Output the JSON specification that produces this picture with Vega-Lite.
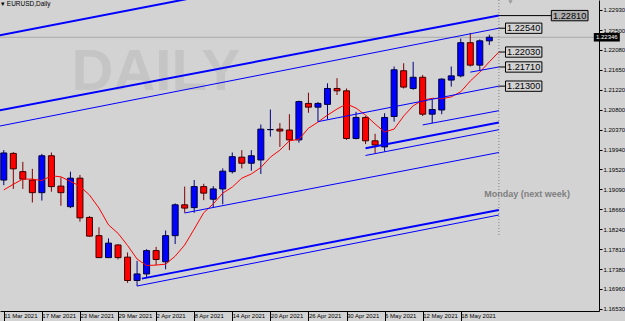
{
  "$schema": "https://vega.github.io/schema/vega-lite/v6.json",
  "width": 599,
  "height": 311,
  "autosize": {"type": "none"},
  "padding": {"left": 0, "top": 0, "right": 26, "bottom": 10},
  "background": "#d3d3d3",
  "config": {"view": {"stroke": null}, "font": "Liberation Sans"},
  "title": {"text": "▾ EURUSD,Daily", "anchor": "start", "frame": "group", "offset": -14, "fontSize": 6.5, "fontWeight": "normal", "color": "#000000", "font": "Liberation Sans", "baseline": "bottom", "dx": 1},
  "resolve": {"axis": {"x": "independent", "y": "independent"}},
  "datasets": {
    "candles": [
      {"i":0,"date":"2021-03-11","open":1.1929,"high":1.1993,"low":1.1918,"close":1.1987},
      {"i":1,"date":"2021-03-12","open":1.1986,"high":1.1989,"low":1.1910,"close":1.1953},
      {"i":2,"date":"2021-03-15","open":1.1947,"high":1.1968,"low":1.1910,"close":1.1931},
      {"i":3,"date":"2021-03-16","open":1.1929,"high":1.1953,"low":1.1881,"close":1.1902},
      {"i":4,"date":"2021-03-17","open":1.1902,"high":1.1985,"low":1.1885,"close":1.1981},
      {"i":5,"date":"2021-03-18","open":1.1981,"high":1.1988,"low":1.1904,"close":1.1915},
      {"i":6,"date":"2021-03-19","open":1.1916,"high":1.1935,"low":1.1874,"close":1.1902},
      {"i":7,"date":"2021-03-22","open":1.1872,"high":1.1947,"low":1.1869,"close":1.1933},
      {"i":8,"date":"2021-03-23","open":1.1933,"high":1.1940,"low":1.1840,"close":1.1848},
      {"i":9,"date":"2021-03-24","open":1.1849,"high":1.1852,"low":1.1808,"close":1.1809},
      {"i":10,"date":"2021-03-25","open":1.1810,"high":1.1828,"low":1.1762,"close":1.1763},
      {"i":11,"date":"2021-03-26","open":1.1763,"high":1.1804,"low":1.1762,"close":1.1794},
      {"i":12,"date":"2021-03-29","open":1.1790,"high":1.1792,"low":1.1759,"close":1.1763},
      {"i":13,"date":"2021-03-30","open":1.1764,"high":1.1774,"low":1.1709,"close":1.1714},
      {"i":14,"date":"2021-03-31","open":1.1714,"high":1.1756,"low":1.1702,"close":1.1728},
      {"i":15,"date":"2021-04-01","open":1.1728,"high":1.1781,"low":1.1721,"close":1.1778},
      {"i":16,"date":"2021-04-02","open":1.1778,"high":1.1786,"low":1.1747,"close":1.1759},
      {"i":17,"date":"2021-04-05","open":1.1754,"high":1.1821,"low":1.1738,"close":1.1810},
      {"i":18,"date":"2021-04-06","open":1.1810,"high":1.1879,"low":1.1792,"close":1.1876},
      {"i":19,"date":"2021-04-07","open":1.1876,"high":1.1915,"low":1.1859,"close":1.1869},
      {"i":20,"date":"2021-04-08","open":1.1870,"high":1.1929,"low":1.1859,"close":1.1915},
      {"i":21,"date":"2021-04-09","open":1.1915,"high":1.1921,"low":1.1886,"close":1.1901},
      {"i":22,"date":"2021-04-12","open":1.1888,"high":1.1916,"low":1.1870,"close":1.1910},
      {"i":23,"date":"2021-04-13","open":1.1910,"high":1.1954,"low":1.1877,"close":1.1948},
      {"i":24,"date":"2021-04-14","open":1.1947,"high":1.1988,"low":1.1943,"close":1.1979},
      {"i":25,"date":"2021-04-15","open":1.1978,"high":1.1993,"low":1.1954,"close":1.1965},
      {"i":26,"date":"2021-04-16","open":1.1965,"high":1.1993,"low":1.1949,"close":1.1981},
      {"i":27,"date":"2021-04-19","open":1.1972,"high":1.2048,"low":1.1942,"close":1.2038},
      {"i":28,"date":"2021-04-20","open":1.2037,"high":1.2080,"low":1.2022,"close":1.2037},
      {"i":29,"date":"2021-04-21","open":1.2038,"high":1.2051,"low":1.2000,"close":1.2034},
      {"i":30,"date":"2021-04-22","open":1.2036,"high":1.2070,"low":1.1993,"close":1.2015},
      {"i":31,"date":"2021-04-23","open":1.2015,"high":1.2099,"low":1.2009,"close":1.2097},
      {"i":32,"date":"2021-04-26","open":1.2093,"high":1.2116,"low":1.2073,"close":1.2085},
      {"i":33,"date":"2021-04-27","open":1.2085,"high":1.2096,"low":1.2054,"close":1.2093},
      {"i":34,"date":"2021-04-28","open":1.2091,"high":1.2136,"low":1.2059,"close":1.2125},
      {"i":35,"date":"2021-04-29","open":1.2125,"high":1.2147,"low":1.2111,"close":1.2120},
      {"i":36,"date":"2021-04-30","open":1.2120,"high":1.2125,"low":1.2015,"close":1.2018},
      {"i":37,"date":"2021-05-03","open":1.2018,"high":1.2075,"low":1.2016,"close":1.2063},
      {"i":38,"date":"2021-05-04","open":1.2063,"high":1.2066,"low":1.2006,"close":1.2013},
      {"i":39,"date":"2021-05-05","open":1.2013,"high":1.2028,"low":1.1986,"close":1.2004},
      {"i":40,"date":"2021-05-06","open":1.2000,"high":1.2072,"low":1.1990,"close":1.2063},
      {"i":41,"date":"2021-05-07","open":1.2065,"high":1.2172,"low":1.2054,"close":1.2165},
      {"i":42,"date":"2021-05-10","open":1.2163,"high":1.2179,"low":1.2125,"close":1.2128},
      {"i":43,"date":"2021-05-11","open":1.2125,"high":1.2182,"low":1.2122,"close":1.2149},
      {"i":44,"date":"2021-05-12","open":1.2149,"high":1.2154,"low":1.2066,"close":1.2070},
      {"i":45,"date":"2021-05-13","open":1.2070,"high":1.2102,"low":1.2051,"close":1.2080},
      {"i":46,"date":"2021-05-14","open":1.2079,"high":1.2147,"low":1.2070,"close":1.2145},
      {"i":47,"date":"2021-05-17","open":1.2143,"high":1.2172,"low":1.2129,"close":1.2152},
      {"i":48,"date":"2021-05-18","open":1.2152,"high":1.2232,"low":1.2149,"close":1.2223},
      {"i":49,"date":"2021-05-19","open":1.2223,"high":1.2244,"low":1.2172,"close":1.2175},
      {"i":50,"date":"2021-05-20","open":1.2175,"high":1.2230,"low":1.2163,"close":1.2227},
      {"i":51,"date":"2021-05-21","open":1.2227,"high":1.2240,"low":1.2218,"close":1.22346}
    ],
    "ma": [
      {"i":0,"ma":1.1908},{"i":1,"ma":1.1920},{"i":2,"ma":1.1931},{"i":3,"ma":1.1931},{"i":4,"ma":1.1928},
      {"i":5,"ma":1.1938},{"i":6,"ma":1.1936},{"i":7,"ma":1.1926},{"i":8,"ma":1.1916},{"i":9,"ma":1.1897},
      {"i":10,"ma":1.1869},{"i":11,"ma":1.1833},{"i":12,"ma":1.1815},{"i":13,"ma":1.1789},{"i":14,"ma":1.1760},
      {"i":15,"ma":1.1746},{"i":16,"ma":1.1747},{"i":17,"ma":1.1749},{"i":18,"ma":1.1766},{"i":19,"ma":1.1790},
      {"i":20,"ma":1.1824},{"i":21,"ma":1.1859},{"i":22,"ma":1.1878},{"i":23,"ma":1.1901},{"i":24,"ma":1.1914},
      {"i":25,"ma":1.1933},{"i":26,"ma":1.1942},{"i":27,"ma":1.1956},{"i":28,"ma":1.1978},{"i":29,"ma":1.1993},
      {"i":30,"ma":1.2013},{"i":31,"ma":1.2016},{"i":32,"ma":1.2040},{"i":33,"ma":1.2053},{"i":34,"ma":1.2068},
      {"i":35,"ma":1.2081},{"i":36,"ma":1.2092},{"i":37,"ma":1.2083},{"i":38,"ma":1.2068},{"i":39,"ma":1.2049},
      {"i":40,"ma":1.2032},{"i":41,"ma":1.2038},{"i":42,"ma":1.2066},{"i":43,"ma":1.2088},{"i":44,"ma":1.2100},
      {"i":45,"ma":1.2104},{"i":46,"ma":1.2103},{"i":47,"ma":1.2107},{"i":48,"ma":1.2118},{"i":49,"ma":1.2141},
      {"i":50,"ma":1.2160},{"i":51,"ma":1.2182},{"i":52,"ma":1.2203}
    ],
    "thickLines": [
      {"line":"t1","i":-1,"price":1.22365},{"line":"t1","i":52,"price":1.24459},
      {"line":"t2","i":-1,"price":1.20760},{"line":"t2","i":52,"price":1.2281},
      {"line":"t3","i":38,"price":1.1997},{"line":"t3","i":52,"price":1.20522},
      {"line":"t4","i":14.5,"price":1.1718},{"line":"t4","i":52,"price":1.18649}
    ],
    "thinLines": [
      {"line":"s1","i":-1,"price":1.20423},{"line":"s1","i":52,"price":1.2254},
      {"line":"s2","i":49,"price":1.2160},{"line":"s2","i":52,"price":1.2171},
      {"line":"s3","i":33,"price":1.2054},{"line":"s3","i":52,"price":1.2130},
      {"line":"s4","i":44,"price":1.2047},{"line":"s4","i":52,"price":1.20775},
      {"line":"s5","i":19,"price":1.18585},{"line":"s5","i":52,"price":1.1988},
      {"line":"s6","i":38,"price":1.19816},{"line":"s6","i":52,"price":1.20368},
      {"line":"s7","i":14,"price":1.17022},{"line":"s7","i":52,"price":1.18542}
    ],
    "tags": [
      {"price":1.2254,"label":"1.22540"},
      {"price":1.2203,"label":"1.22030"},
      {"price":1.2171,"label":"1.21710"},
      {"price":1.2130,"label":"1.21300"}
    ],
    "farTag": [{"price":1.2281,"label":"1.22810"}],
    "bid": [{"price":1.22346,"label":"1.22346"}],
    "nextWeek": [{"i":52,"date":"2021-05-24","label":"Monday (next week)"}]
  },
  "layer": [
    {
      "data": {"values": [{"text": "DAILY"}]},
      "mark": {"type": "text", "fontSize": 58, "fontWeight": "bold", "color": "#c5c5c5", "align": "center", "baseline": "alphabetic"},
      "encoding": {
        "x": {"datum": 15.98, "type": "quantitative", "scale": {"domain": [0.1268, 61.995], "nice": false, "zero": false}, "axis": null},
        "y": {"datum": 1.21218, "type": "quantitative", "scale": {"domain": [1.16487, 1.23144], "nice": false, "zero": false}, "axis": null},
        "text": {"field": "text"}
      }
    },
    {
      "data": {"name": "bid"},
      "mark": {"type": "rule", "color": "#a9a9a9", "strokeWidth": 1},
      "encoding": {
        "y": {"field": "price", "type": "quantitative", "scale": {"domain": [1.16487, 1.23144], "nice": false, "zero": false}, "axis": null}
      }
    },
    {
      "data": {"name": "nextWeek"},
      "mark": {"type": "rule", "color": "#808080", "strokeWidth": 1, "strokeDash": [1, 2]},
      "encoding": {
        "x": {"field": "i", "type": "quantitative", "scale": {"domain": [0.1268, 61.995], "nice": false, "zero": false}, "axis": null},
        "y": {"datum": 1.23144, "type": "quantitative", "scale": {"domain": [1.16487, 1.23144], "nice": false, "zero": false}, "axis": null},
        "y2": {"datum": 1.1810}
      }
    },
    {
      "data": {"name": "nextWeek"},
      "mark": {"type": "text", "fontSize": 9, "fontWeight": "bold", "color": "#7f7f7f", "align": "center", "baseline": "middle"},
      "encoding": {
        "x": {"datum": 54.97, "type": "quantitative", "scale": {"domain": [0.1268, 61.995], "nice": false, "zero": false}, "axis": null},
        "y": {"datum": 1.18996, "type": "quantitative", "scale": {"domain": [1.16487, 1.23144], "nice": false, "zero": false}, "axis": null},
        "text": {"field": "label"}
      }
    },
    {
      "data": {"name": "candles"},
      "mark": {"type": "rule", "strokeWidth": 1, "clip": true},
      "encoding": {
        "x": {"field": "i", "type": "quantitative", "scale": {"domain": [0.1268, 61.995], "nice": false, "zero": false}, "axis": null},
        "y": {"field": "low", "type": "quantitative", "scale": {"domain": [1.16487, 1.23144], "nice": false, "zero": false}, "axis": null},
        "y2": {"field": "high"},
        "color": {"condition": {"test": "datum.close >= datum.open", "value": "#000080"}, "value": "#800000"}
      }
    },
    {
      "data": {"name": "candles"},
      "mark": {"type": "bar", "size": 6, "strokeWidth": 1, "clip": true},
      "encoding": {
        "x": {"field": "i", "type": "quantitative", "scale": {"domain": [0.1268, 61.995], "nice": false, "zero": false},
          "axis": {"values": [0, 4, 8, 12, 16, 20, 24, 28, 32, 36, 40, 44, 48],
            "labelExpr": "['11 Mar 2021','17 Mar 2021','23 Mar 2021','29 Mar 2021','2 Apr 2021','8 Apr 2021','14 Apr 2021','20 Apr 2021','26 Apr 2021','30 Apr 2021','6 May 2021','12 May 2021','18 May 2021'][round(datum.value/4)]",
            "title": null, "grid": false, "domainColor": "#000000", "tickColor": "#000000", "tickSize": 10, "tickWidth": 1, "domainWidth": 1,
            "labelAlign": "left", "labelBaseline": "top", "labelPadding": -9, "labelDx": 2, "labelFontSize": 6, "labelColor": "#000000",
            "labelFlush": false, "labelOverlap": false, "labelBound": false}},
        "y": {"field": "open", "type": "quantitative", "scale": {"domain": [1.16487, 1.23144], "nice": false, "zero": false},
          "axis": {"orient": "right", "values": [1.1653, 1.1696, 1.1738, 1.1781, 1.1824, 1.1866, 1.1909, 1.1952, 1.1994, 1.2037, 1.208, 1.2122, 1.2165, 1.2208, 1.225, 1.2293],
            "format": ".5f", "title": null, "grid": false, "domainColor": "#000000", "tickColor": "#000000", "tickSize": 3, "labelPadding": 1,
            "labelFontSize": 6, "labelColor": "#000000", "labelFlush": false, "labelOverlap": false, "labelBaseline": "middle"}},
        "y2": {"field": "close"},
        "fill": {"condition": {"test": "datum.close >= datum.open", "value": "#0000ff"}, "value": "#ff0000"},
        "stroke": {"condition": {"test": "datum.close >= datum.open", "value": "#00003c"}, "value": "#3c0000"}
      }
    },
    {
      "data": {"name": "ma"},
      "mark": {"type": "line", "color": "#ff0000", "strokeWidth": 1, "clip": true},
      "encoding": {
        "x": {"field": "i", "type": "quantitative", "scale": {"domain": [0.1268, 61.995], "nice": false, "zero": false}, "axis": null},
        "y": {"field": "ma", "type": "quantitative", "scale": {"domain": [1.16487, 1.23144], "nice": false, "zero": false}, "axis": null}
      }
    },
    {
      "data": {"name": "thinLines"},
      "mark": {"type": "line", "color": "#0000ff", "strokeWidth": 1, "clip": true},
      "encoding": {
        "x": {"field": "i", "type": "quantitative", "scale": {"domain": [0.1268, 61.995], "nice": false, "zero": false}, "axis": null},
        "y": {"field": "price", "type": "quantitative", "scale": {"domain": [1.16487, 1.23144], "nice": false, "zero": false}, "axis": null},
        "detail": {"field": "line"}
      }
    },
    {
      "data": {"name": "thickLines"},
      "mark": {"type": "line", "color": "#0000ff", "strokeWidth": 2, "clip": true},
      "encoding": {
        "x": {"field": "i", "type": "quantitative", "scale": {"domain": [0.1268, 61.995], "nice": false, "zero": false}, "axis": null},
        "y": {"field": "price", "type": "quantitative", "scale": {"domain": [1.16487, 1.23144], "nice": false, "zero": false}, "axis": null},
        "detail": {"field": "line"}
      }
    },
    {
      "data": {"name": "tags"},
      "mark": {"type": "rule", "color": "#000000", "strokeWidth": 1},
      "encoding": {
        "x": {"datum": 52, "type": "quantitative", "scale": {"domain": [0.1268, 61.995], "nice": false, "zero": false}, "axis": null},
        "x2": {"datum": 52.73},
        "y": {"field": "price", "type": "quantitative", "scale": {"domain": [1.16487, 1.23144], "nice": false, "zero": false}, "axis": null}
      }
    },
    {
      "data": {"name": "tags"},
      "mark": {"type": "point", "shape": "M-1,-0.283H1V0.283H-1Z", "size": 1325, "filled": true, "fill": "#d3d3d3", "stroke": "#000000", "strokeWidth": 1, "opacity": 1},
      "encoding": {
        "x": {"datum": 54.61, "type": "quantitative", "scale": {"domain": [0.1268, 61.995], "nice": false, "zero": false}, "axis": null},
        "y": {"field": "price", "type": "quantitative", "scale": {"domain": [1.16487, 1.23144], "nice": false, "zero": false}, "axis": null}
      }
    },
    {
      "data": {"name": "tags"},
      "mark": {"type": "text", "fontSize": 9.2, "color": "#000000", "align": "center", "baseline": "middle"},
      "encoding": {
        "x": {"datum": 54.61, "type": "quantitative", "scale": {"domain": [0.1268, 61.995], "nice": false, "zero": false}, "axis": null},
        "y": {"field": "price", "type": "quantitative", "scale": {"domain": [1.16487, 1.23144], "nice": false, "zero": false}, "axis": null},
        "text": {"field": "label"}
      }
    },
    {
      "data": {"name": "farTag"},
      "mark": {"type": "rule", "color": "#000000", "strokeWidth": 1},
      "encoding": {
        "x": {"datum": 52, "type": "quantitative", "scale": {"domain": [0.1268, 61.995], "nice": false, "zero": false}, "axis": null},
        "x2": {"datum": 57.55},
        "y": {"field": "price", "type": "quantitative", "scale": {"domain": [1.16487, 1.23144], "nice": false, "zero": false}, "axis": null}
      }
    },
    {
      "data": {"name": "farTag"},
      "mark": {"type": "point", "shape": "M-1,-0.283H1V0.283H-1Z", "size": 1347, "filled": true, "fill": "#adadad", "stroke": "#000000", "strokeWidth": 1, "opacity": 1},
      "encoding": {
        "x": {"datum": 59.44, "type": "quantitative", "scale": {"domain": [0.1268, 61.995], "nice": false, "zero": false}, "axis": null},
        "y": {"field": "price", "type": "quantitative", "scale": {"domain": [1.16487, 1.23144], "nice": false, "zero": false}, "axis": null}
      }
    },
    {
      "data": {"name": "farTag"},
      "mark": {"type": "text", "fontSize": 9.2, "color": "#000000", "align": "center", "baseline": "middle"},
      "encoding": {
        "x": {"datum": 59.44, "type": "quantitative", "scale": {"domain": [0.1268, 61.995], "nice": false, "zero": false}, "axis": null},
        "y": {"field": "price", "type": "quantitative", "scale": {"domain": [1.16487, 1.23144], "nice": false, "zero": false}, "axis": null},
        "text": {"field": "label"}
      }
    },
    {
      "data": {"name": "bid"},
      "mark": {"type": "point", "shape": "M-1,-0.327H1V0.327H-1Z", "size": 676, "filled": true, "fill": "#000000", "strokeWidth": 0, "opacity": 1},
      "encoding": {
        "x": {"datum": 63.34, "type": "quantitative", "scale": {"domain": [0.1268, 61.995], "nice": false, "zero": false}, "axis": null},
        "y": {"field": "price", "type": "quantitative", "scale": {"domain": [1.16487, 1.23144], "nice": false, "zero": false}, "axis": null}
      }
    },
    {
      "data": {"name": "bid"},
      "mark": {"type": "text", "fontSize": 6, "color": "#ffffff", "align": "center", "baseline": "middle"},
      "encoding": {
        "x": {"datum": 63.34, "type": "quantitative", "scale": {"domain": [0.1268, 61.995], "nice": false, "zero": false}, "axis": null},
        "y": {"field": "price", "type": "quantitative", "scale": {"domain": [1.16487, 1.23144], "nice": false, "zero": false}, "axis": null},
        "text": {"field": "label"}
      }
    },
    {
      "data": {"values": [{"marker": "chart shift"}]},
      "mark": {"type": "point", "shape": "triangle-down", "size": 18, "filled": true, "fill": "#9a9a9a", "strokeWidth": 0, "opacity": 1},
      "encoding": {
        "x": {"datum": 53.22, "type": "quantitative", "scale": {"domain": [0.1268, 61.995], "nice": false, "zero": false}, "axis": null},
        "y": {"datum": 1.2310, "type": "quantitative", "scale": {"domain": [1.16487, 1.23144], "nice": false, "zero": false}, "axis": null}
      }
    }
  ]
}
